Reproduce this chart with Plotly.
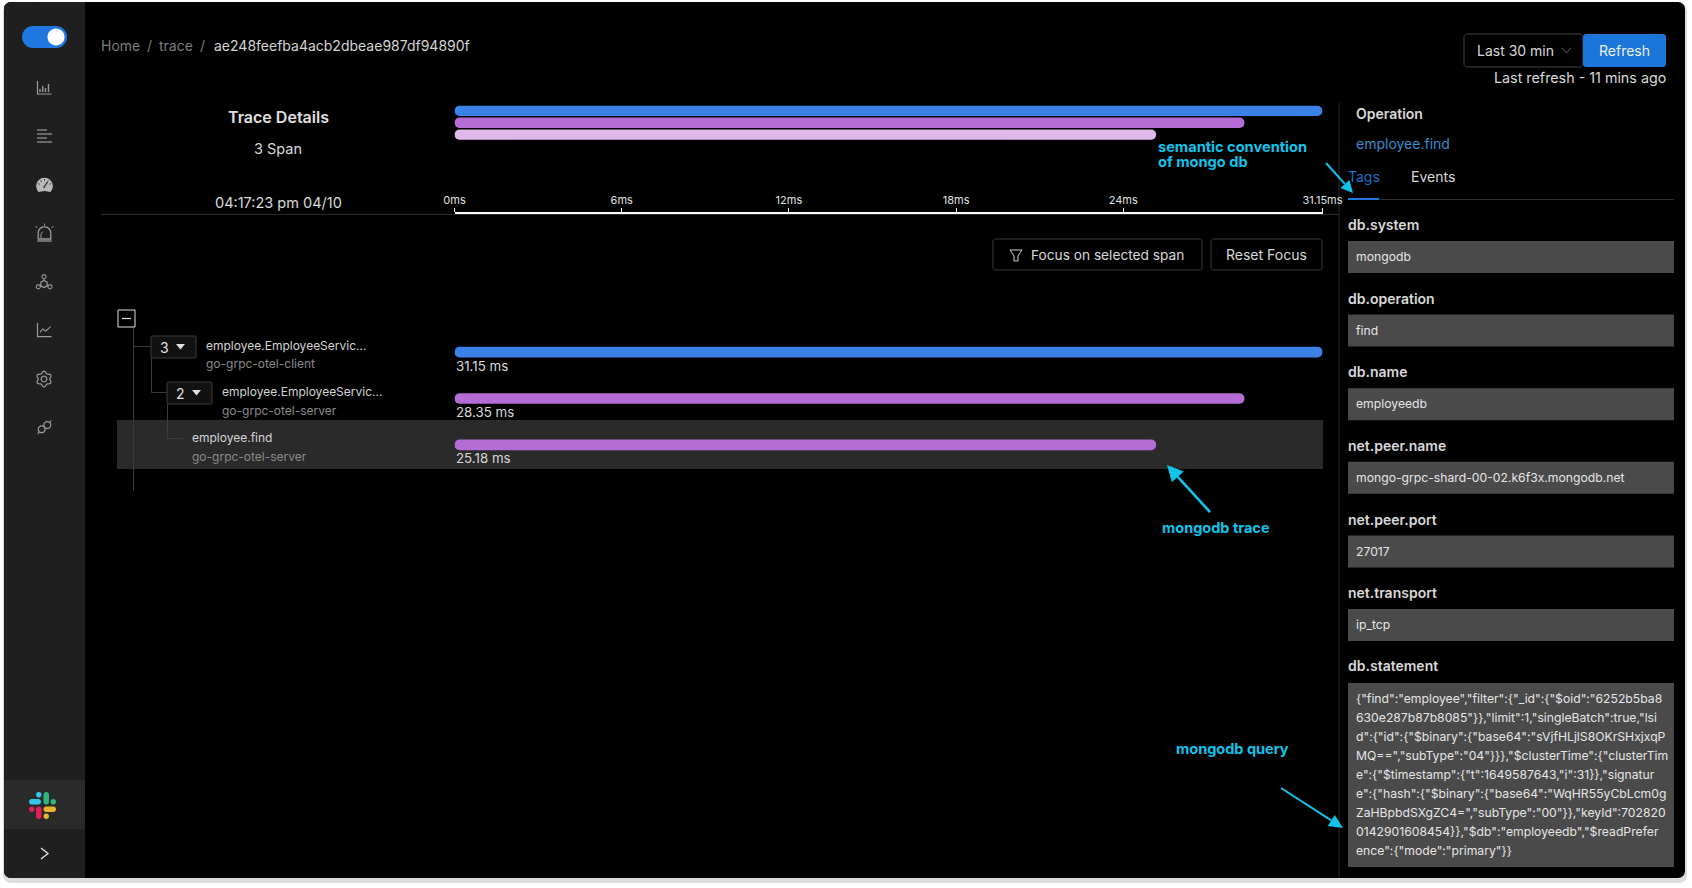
import math
import plotly.graph_objects as go

W, H = 1692, 888

# ---- data ----
span_names = ["employee.EmployeeServic...", "employee.EmployeeServic...", "employee.find"]
span_services = ["go-grpc-otel-client", "go-grpc-otel-server", "go-grpc-otel-server"]
span_start_ms = [0, 0, 0]
span_duration_ms = [31.15, 28.35, 25.18]
overview_colors = ["#3a82e8", "#b56cd4", "#dfb8ec"]
detail_colors = ["#3a82e8", "#b56cd4", "#b56cd4"]
tick_values = [0, 6, 12, 18, 24, 31.15]
tick_labels = ["0ms", "6ms", "12ms", "18ms", "24ms", "31.15ms"]
tag_names = ["db.system", "db.operation", "db.name", "net.peer.name", "net.peer.port", "net.transport"]
tag_values = ["mongodb", "find", "employeedb", "mongo-grpc-shard-00-02.k6f3x.mongodb.net", "27017", "ip_tcp"]
statement_lines = [
    '{"find":"employee","filter":{"_id":{"$oid":"6252b5ba8',
    '630e287b87b8085"}},"limit":1,"singleBatch":true,"lsi',
    'd":{"id":{"$binary":{"base64":"sVjfHLjlS8OKrSHxjxqP',
    'MQ==","subType":"04"}}},"$clusterTime":{"clusterTim',
    'e":{"$timestamp":{"t":1649587643,"i":31}},"signatur',
    'e":{"hash":{"$binary":{"base64":"WqHR55yCbLcm0g',
    'ZaHBpbdSXgZC4=","subType":"00"}},"keyId":702820',
    '0142901608454}},"$db":"employeedb","$readPrefer',
    'ence":{"mode":"primary"}}',
]

FONT = "Inter, 'Liberation Sans', sans-serif"
CYAN = "#12c3ea"
shapes, annots = [], []


def px(x):
    return x / W


def py(y):
    return 1 - y / H


def poly(points, fill=None, line=None, lw=1.0, closed=True, layer="below"):
    d = "M " + " L ".join(f"{px(x):.5f},{py(y):.5f}" for x, y in points)
    if closed:
        d += " Z"
    shapes.append(dict(type="path", xref="paper", yref="paper", path=d, layer=layer,
                       fillcolor=fill if fill else "rgba(0,0,0,0)",
                       line=dict(color=line if line else "rgba(0,0,0,0)", width=lw if line else 0)))


def rrect(x0, y0, x1, y1, r=0, fill=None, line=None, lw=1.0, layer="below"):
    if r <= 0:
        pts = [(x0, y0), (x1, y0), (x1, y1), (x0, y1)]
    else:
        pts = []
        for cx, cy, a0 in [(x1 - r, y0 + r, -90), (x1 - r, y1 - r, 0), (x0 + r, y1 - r, 90), (x0 + r, y0 + r, 180)]:
            for i in range(9):
                a = math.radians(a0 + i * 90 / 8)
                pts.append((cx + r * math.cos(a), cy + r * math.sin(a)))
    poly(pts, fill, line, lw, layer=layer)


def circle(cx, cy, r, fill=None, line=None, lw=1.0):
    pts = [(cx + r * math.cos(i * math.pi / 16), cy + r * math.sin(i * math.pi / 16)) for i in range(32)]
    poly(pts, fill, line, lw)


def seg(points, color, lw=1.0):
    poly(points, None, color, lw, closed=False)


def text(x, y, s, size=14, color="#d9d9d9", anchor="left", weight=400):
    annots.append(dict(xref="paper", yref="paper", x=px(x), y=py(y - 0.4), text=s,
                       showarrow=False, xanchor=anchor, yanchor="middle", align=anchor,
                       font=dict(family=FONT, size=size, color=color, weight=weight),
                       borderpad=0, borderwidth=0))


def arrow(x0, y0, x1, y1, head=16, half=8, lw=2.6):
    d = math.hypot(x1 - x0, y1 - y0)
    ux, uy = (x1 - x0) / d, (y1 - y0) / d
    bx, by = x1 - ux * head, y1 - uy * head
    seg([(x0, y0), (bx, by)], CYAN, lw)
    poly([(x1, y1), (bx - uy * half, by + ux * half), (bx + uy * half, by - ux * half)], fill=CYAN)


# ---- window ----
rrect(3, 4, 1687, 883, 8, fill="rgba(120,120,120,0.25)")
rrect(4, 2, 1685, 878, 7, fill="#000000")
rrect(4, 2, 85, 878, 7, fill="#1f1f1f")
rrect(40, 2, 85, 878, 0, fill="#1f1f1f")
rrect(4, 780, 85, 829, 0, fill="#2a2a2a")

# ---- sidebar ----
rrect(22, 26, 67, 48, 11, fill="#1f78e0")
circle(56, 37, 8.5, fill="#ffffff")
IC = "#9c9c9c"
cx = 44.5
# bar chart
seg([(cx - 7, 81), (cx - 7, 94), (cx + 7, 94)], IC, 1.2)
for dx, top in [(-4.5, 89), (-1.8, 86), (1, 88), (4, 84)]:
    seg([(cx + dx, 92), (cx + dx, top)], IC, 1.4)
# list
for yy, ln in [(130, 10), (134, 15), (138, 10), (142, 15)]:
    seg([(cx - 7.5, yy), (cx - 7.5 + ln, yy)], IC, 1.2)
# gauge
poly([(cx + 8.3 * math.cos(math.radians(a)), 186 + 8.3 * math.sin(math.radians(a))) for a in range(150, 391, 15)]
     + [(cx + 6, 192), (cx, 191), (cx - 6, 192)], fill="#b8b8b8")
seg([(cx - 1, 188), (cx + 3, 182)], "#1f1f1f", 1.2)
for a in (200, 235, 270, 305, 340):
    ca, sa = math.cos(math.radians(a)), math.sin(math.radians(a))
    seg([(cx + 5.2 * ca, 186 + 5.2 * sa), (cx + 7 * ca, 186 + 7 * sa)], "#1f1f1f", 0.8)
# alarm
poly([(cx - 6.3, 239), (cx - 6.3, 233)] + [(cx + 6.3 * math.cos(math.radians(a)), 233 + 6.3 * math.sin(math.radians(a))) for a in range(180, 361, 20)]
     + [(cx + 6.3, 239)], None, IC, 1.3)
seg([(cx - 3.5, 238), (cx - 3.5, 234), (cx - 1.5, 231.5)], IC)
seg([(cx - 7.2, 241), (cx + 7.2, 241)], IC, 1.3)
for a, b, c, d in [(cx, 225.5, cx, 223.5), (cx - 7, 228, cx - 9, 226), (cx + 7, 228, cx + 9, 226)]:
    seg([(a, b), (c, d)], IC)
# network
circle(cx - 0.5, 276.7, 2, None, IC, 1.1)
circle(cx - 6.2, 286.7, 2, None, IC, 1.1)
circle(cx + 5.5, 286.7, 2, None, IC, 1.1)
poly([(cx - 0.5 + 3.6 * math.cos(math.radians(a)), 284 + 3.6 * math.sin(math.radians(a))) for a in range(-90, 270, 60)], None, IC, 1.2)
seg([(cx - 0.5, 278.7), (cx - 0.5, 280.4)], IC)
seg([(cx - 4.5, 285.6), (cx - 3.6, 285.8)], IC)
seg([(cx + 3.8, 285.6), (cx + 2.6, 285.8)], IC)
# line chart
seg([(cx - 7, 323), (cx - 7, 336.7), (cx + 7, 336.7)], IC, 1.2)
seg([(40, 332.3), (42.7, 329), (45.7, 331), (50.7, 326.7)], IC, 1.1)
# gear
gear = []
for i in range(72):
    a = i * 2 * math.pi / 72
    r = 6.8 + 1.0 * math.cos(6 * a + math.pi)
    gear.append((cx - 0.5 + r * math.cos(a), 379 + r * math.sin(a)))
poly(gear, None, IC, 1.2)
circle(cx - 0.5, 379, 2.8, None, IC, 1.2)
# plug
circle(41.7, 429.3, 3.4, None, IC, 1.2)
circle(47.3, 425, 3.4, None, IC, 1.2)
seg([(39.2, 431.8), (37.8, 434)], IC, 1.2)
seg([(49.8, 422.5), (51.2, 420.5)], IC, 1.2)
# slack logo
rrect(29, 799, 41, 804.5, 2.7, fill="#36c5f0")
rrect(36, 792, 41.5, 797.5, 2.7, fill="#36c5f0")
rrect(43.5, 792, 49, 804.5, 2.7, fill="#2eb67d")
rrect(50.5, 799, 56, 804.5, 2.7, fill="#2eb67d")
rrect(29, 806.5, 34.5, 812, 2.7, fill="#e01e5a")
rrect(36, 806.5, 41.5, 819, 2.7, fill="#e01e5a")
rrect(43.5, 806.5, 56, 812, 2.7, fill="#ecb22e")
rrect(43.5, 813.5, 49, 819, 2.7, fill="#ecb22e")
seg([(41, 848), (48, 853.5), (41, 859)], "#e6e6e6", 1.3)

# ---- header ----
text(100.5, 46, "Home", 14, "#7d7d7d")
text(147, 46, "/", 14, "#7d7d7d")
text(159, 46, "trace", 14, "#7d7d7d")
text(200, 46, "/", 14, "#7d7d7d")
text(213.5, 46, "ae248feefba4acb2dbeae987df94890f", 14, "#d4d4d4")
rrect(1464, 34, 1583, 67, 3, line="#444444")
text(1476.5, 51, "Last 30 min", 14, "#d9d9d9")
seg([(1562, 48), (1566.5, 53), (1571, 48)], "#666666")
rrect(1583, 34, 1666, 67, 3, fill="#1a76d9")
text(1624.5, 51, "Refresh", 14, "#f0f0f0", "center")
text(1666, 78.5, "Last refresh - 11 mins ago", 14.3, "#d9d9d9", "right")

# ---- trace summary ----
text(278, 117.5, "Trace Details", 16, "#e0e0e0", "center", 600)
text(278, 148.5, "3 Span", 14.5, "#d9d9d9", "center")
text(278, 203, "04:17:23 pm 04/10", 14.5, "#d9d9d9", "center")
seg([(101, 214.5), (1339, 214.5)], "#2a2a2a")

# ---- focus buttons ----
rrect(993, 239, 1202, 270, 2, line="#3a3a3a")
poly([(1010, 250), (1022, 250), (1018, 256), (1018, 261), (1014, 261), (1014, 256)], None, "#d0d0d0")
text(1030.5, 255, "Focus on selected span", 13.7, "#d9d9d9")
rrect(1211, 239, 1322, 270, 2, line="#3a3a3a")
text(1266.5, 255, "Reset Focus", 14, "#d9d9d9", "center")

# ---- span tree ----
rrect(117, 420, 1323, 469, 0, fill="#2a2a2a")
TL = "#3c3c3c"
seg([(133.5, 327), (133.5, 491)], TL)
seg([(133.5, 346.5), (151, 346.5)], TL)
seg([(151.5, 358), (151.5, 392.5), (167, 392.5)], TL)
seg([(167.5, 404), (167.5, 438.5), (183, 438.5)], TL)
rrect(118, 310, 135, 327, 0, line="#e0e0e0", fill="#000000")
seg([(122, 318.5), (131, 318.5)], "#e0e0e0", 1.2)
for x0, y0, count in [(151, 336, "3"), (167, 382, "2")]:
    rrect(x0, y0, x0 + 45, y0 + 22, 1, line="#3c3c3c", fill="#111111")
    text(x0 + 13, y0 + 11.5, count, 14, "#e0e0e0", "center")
    poly([(x0 + 25, y0 + 8), (x0 + 34, y0 + 8), (x0 + 29.5, y0 + 13.5)], fill="#e0e0e0")
for i, (lx, ly0, ly1) in enumerate([(206, 345.5, 364), (222, 391.5, 411), (192, 438, 457)]):
    text(lx, ly0, span_names[i], 12, "#d4d4d4")
    text(lx, ly1, span_services[i], 12, "#8a8a8a")

# ---- right panel ----
seg([(1339, 103), (1339, 877)], "#2a2a2a")
text(1355.5, 113.5, "Operation", 14, "#d9d9d9", weight=600)
text(1355.5, 143.5, "employee.find", 14, "#3f8ecb")
text(1348, 177, "Tags", 14, "#1f6fc9")
text(1410.5, 177, "Events", 14, "#d9d9d9")
seg([(1348, 199.5), (1674, 199.5)], "#2f2f2f")
seg([(1348, 199), (1379, 199)], "#1f78e0", 2)
for i, (name, value) in enumerate(zip(tag_names, tag_values)):
    top = 241 + i * 73.6
    text(1347.5, top - 16, name, 14, "#d9d9d9", weight=600)
    rrect(1348, top, 1674, top + 32, 0, fill="#4a4a4a")
    text(1355.5, top + 16, value, 12.2, "#e6e6e6")
text(1347.5, 666, "db.statement", 14, "#d9d9d9", weight=600)
rrect(1348, 683, 1674, 867, 0, fill="#4a4a4a")
for i, line_text in enumerate(statement_lines):
    text(1355.5, 699 + i * 19, line_text, 12.2, "#e6e6e6")

# ---- cyan annotations ----
text(1158, 147, "semantic convention", 14.6, CYAN, weight=700)
text(1158, 162, "of mongo db", 14.6, CYAN, weight=700)
arrow(1326, 163, 1353, 193, head=12, half=6, lw=2)
text(1216, 528, "mongodb trace", 14.5, CYAN, "center", 700)
arrow(1210, 512, 1167, 465)
text(1232, 749, "mongodb query", 14.5, CYAN, "center", 700)
arrow(1281, 788, 1343, 828, head=14, half=6.5, lw=2)

# ---- charts, all spans come from the data arrays ----
rows = list(range(len(span_duration_ms)))
fig = go.Figure()
fig.add_trace(go.Bar(x=span_duration_ms, base=span_start_ms, y=rows, orientation="h",
                     width=0.87, marker=dict(color=overview_colors, line_width=0),
                     xaxis="x", yaxis="y", hoverinfo="skip", showlegend=False))
fig.add_trace(go.Bar(x=span_duration_ms, base=span_start_ms, y=rows, orientation="h",
                     width=0.23, marker=dict(color=detail_colors, line_width=0),
                     xaxis="x", yaxis="y2", hoverinfo="skip", showlegend=False))
for start, dur, y_text in zip(span_start_ms, span_duration_ms, [365.7, 412, 458]):
    annots.append(dict(xref="x", yref="paper", x=start, y=py(y_text), text=f"{dur} ms", showarrow=False,
                       xanchor="left", yanchor="middle", font=dict(family=FONT, size=13.3, color="#d9d9d9"),
                       borderpad=0, borderwidth=0, xshift=1))

fig.update_layout(
    width=W, height=H, margin=dict(l=0, r=0, t=0, b=0, autoexpand=False), paper_bgcolor="#ffffff",
    plot_bgcolor="rgba(0,0,0,0)", barcornerradius=5, shapes=shapes, annotations=annots,
    showlegend=False, font=dict(family=FONT),
    xaxis=dict(domain=[px(454.5), px(1322.5)], range=[0, 31.15], anchor="free", position=py(213), side="top",
               automargin=False,
               tickmode="array", tickvals=tick_values, ticktext=tick_labels, ticks="outside", ticklen=4,
               tickcolor="#ffffff", tickwidth=1, showline=True, linecolor="#ffffff", linewidth=1.5,
               showgrid=False, zeroline=False, tickfont=dict(family=FONT, size=11, color="#e0e0e0"), fixedrange=True),
    yaxis=dict(domain=[py(140.5), py(105)], range=[2.5, -0.5], visible=False, anchor="x", fixedrange=True, automargin=False),
    yaxis2=dict(domain=[py(468), py(329)], range=[2.5, -0.5], visible=False, anchor="x", fixedrange=True, automargin=False),
)

fig.write_html("out.html", config=dict(displayModeBar=False),
               post_script="document.body.style.margin='0';document.body.style.overflow='hidden';")
